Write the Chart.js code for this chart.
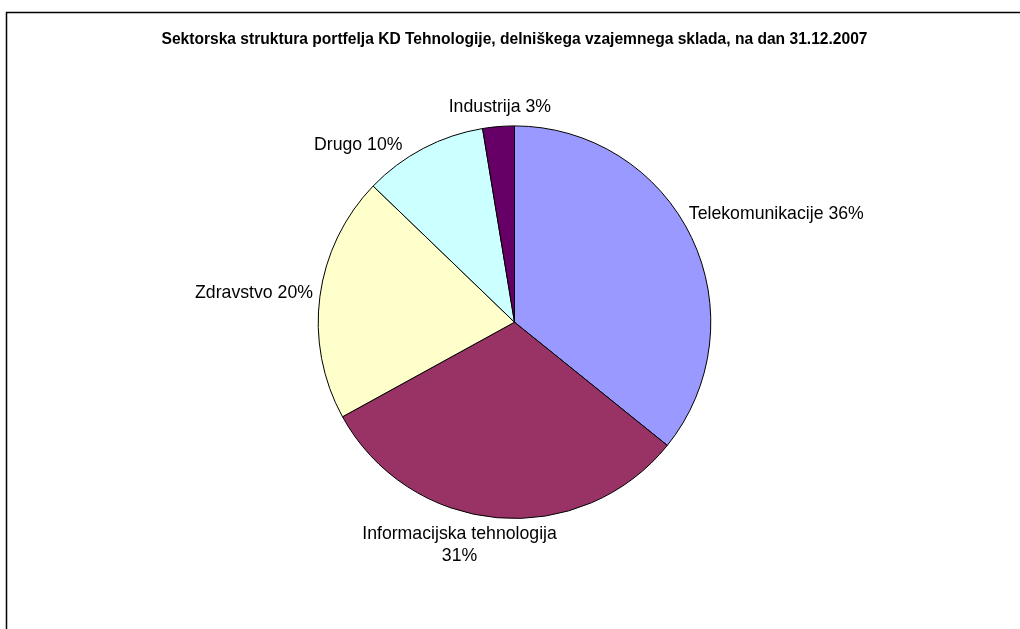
<!DOCTYPE html>
<html>
<head>
<meta charset="utf-8">
<script src="https://cdn.jsdelivr.net/npm/chart.js@4"></script>
<style>
  html, body { margin: 0; padding: 0; background: #fff; }
  #wrap { width: 1020px; height: 629px; }
</style>
</head>
<body>
<div id="wrap"><canvas id="miGrafico" width="1020" height="629"></canvas></div>
<script>
// podatki
const sektorji = ['Telekomunikacije', 'Informacijska tehnologija', 'Zdravstvo', 'Drugo', 'Industrija'];
const deleži = [35.8, 31.2, 20.2, 10.2, 2.6];
const barve = ['#9999FF', '#993366', '#FFFFCC', '#CCFFFF', '#660066'];
const naslov = 'Sektorska struktura portfelja KD Tehnologije, delniškega vzajemnega sklada, na dan 31.12.2007';

// kje stoji posamezna oznaka glede na sredino loka
const postavitev = [
    { align: 'left', baseline: 'middle', dx: -10, dy: -20 },
    { align: 'center', baseline: 'top', dx: -37, dy: 0, prelom: true },
    { align: 'right', baseline: 'middle', dx: 1, dy: -2 },
    { align: 'right', baseline: 'middle', dx: -17, dy: 4 },
    { align: 'center', baseline: 'bottom', dx: 2, dy: -3 }
];

const okvir = {
    id: 'okvir',
    beforeDraw(chart) {
        const ctx = chart.ctx;
        ctx.save();
        ctx.fillStyle = '#fff';
        ctx.fillRect(0, 0, chart.width, chart.height);
        ctx.strokeStyle = '#000';
        ctx.lineWidth = 1.5;
        ctx.strokeRect(6.5, 12.5, 2000, 2000);
        ctx.restore();
    }
};

const oznake = {
    id: 'oznake',
    afterDatasetsDraw(chart) {
        const ctx = chart.ctx;
        const meta = chart.getDatasetMeta(0);
        const total = deleži.reduce((a, b) => a + b, 0);
        ctx.save();
        ctx.font = '17.7px "Liberation Sans", Arial, sans-serif';
        ctx.fillStyle = '#000';
        meta.data.forEach((arc, i) => {
            const p = arc.getProps(['x', 'y', 'startAngle', 'endAngle', 'outerRadius'], true);
            const mid = (p.startAngle + p.endAngle) / 2;
            const r = p.outerRadius + 8;
            const opt = postavitev[i];
            const x = p.x + Math.cos(mid) * r + opt.dx;
            const y = p.y + Math.sin(mid) * r + opt.dy;
            const pct = Math.round(deleži[i] / total * 100) + '%';
            const vrstice = opt.prelom ? [sektorji[i], pct] : [sektorji[i] + ' ' + pct];
            ctx.textAlign = opt.align;
            ctx.textBaseline = opt.baseline;
            vrstice.forEach((t, k) => ctx.fillText(t, x, y + k * 22));
        });
        ctx.restore();
    }
};

const ctx = document.getElementById('miGrafico').getContext('2d');
const miGrafico = new Chart(ctx, {
    type: 'pie',
    data: {
        labels: sektorji,
        datasets: [{
            data: deleži,
            backgroundColor: barve,
            borderColor: '#000',
            borderWidth: 1
        }]
    },
    options: {
        responsive: false,
        animation: false,
        events: [],
        layout: {
            padding: { top: 0, bottom: 110, left: 9, right: 0 }
        },
        plugins: {
            legend: { display: false },
            tooltip: { enabled: false },
            title: {
                display: true,
                text: naslov,
                color: '#000',
                font: { family: '"Liberation Sans", Arial, sans-serif', size: 15.6, weight: 'bold' },
                padding: { top: 30, bottom: 76.7 }
            }
        }
    },
    plugins: [okvir, oznake]
});
</script>
</body>
</html>
